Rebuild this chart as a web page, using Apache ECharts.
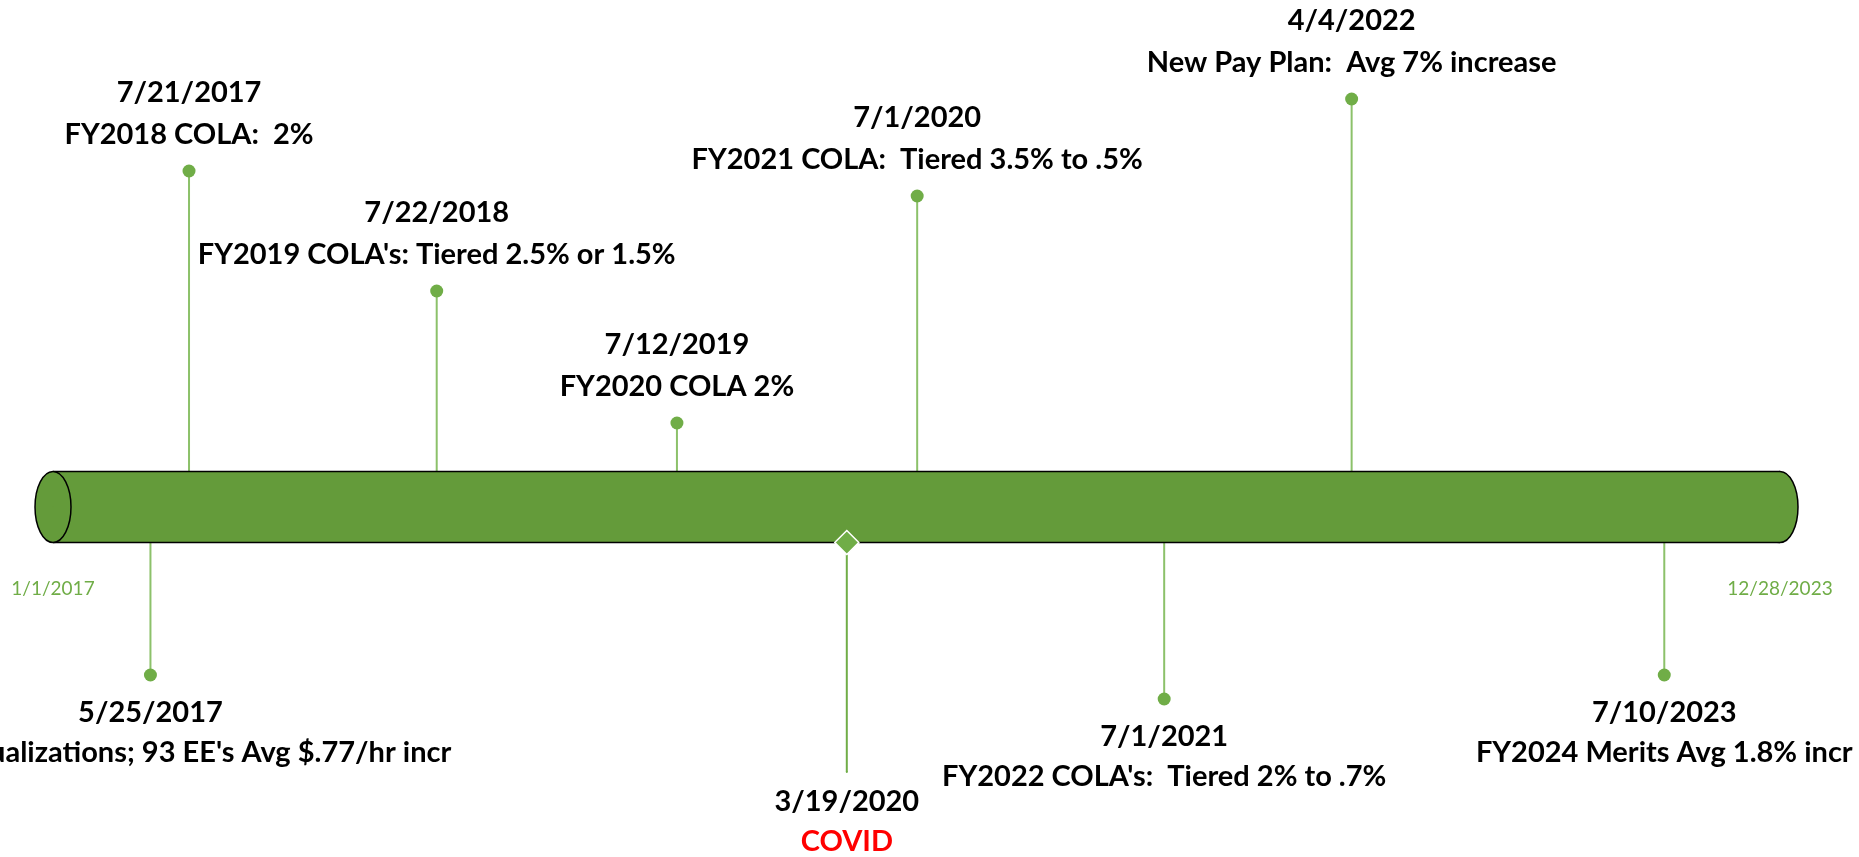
<!DOCTYPE html>
<html>
<head>
<meta charset="utf-8">
<title>Pay timeline</title>
<script src="https://cdn.jsdelivr.net/npm/echarts@6/dist/echarts.min.js"></script>
<style>
  html, body { margin: 0; padding: 0; background: #fff; }
  #chart { width: 1859px; height: 857px; }
</style>
</head>
<body>
<div id="chart"></div>
<script>
// timeline span (the tube) and its end labels
const axisStart = '2017-01-01';
const axisEnd = '2023-12-28';
const axisEndLabels = ['1/1/2017', '12/28/2023'];

// events along the timeline
const eventDates = ['2017-05-25', '2017-07-21', '2018-07-22', '2019-07-12', '2020-03-19', '2020-07-01', '2021-07-01', '2022-04-04', '2023-07-10'];
const eventHeights = [-16.8, 33.6, 21.6, 8.4, -26.5, 31.1, -19.2, 40.8, -16.8];
const eventKinds = ['dot', 'dot', 'dot', 'dot', 'milestone', 'dot', 'dot', 'dot', 'dot'];
const eventTitles = ['5/25/2017', '7/21/2017', '7/22/2018', '7/12/2019', '3/19/2020', '7/1/2020', '7/1/2021', '4/4/2022', '7/10/2023'];
const eventNotes = [
  "Internal Equalizations; 93 EE's Avg $.77/hr incr",
  'FY2018 COLA:  2%',
  "FY2019 COLA's: Tiered 2.5% or 1.5%",
  'FY2020 COLA 2%',
  'COVID',
  'FY2021 COLA:  Tiered 3.5% to .5%',
  "FY2022 COLA's:  Tiered 2% to .7%",
  'New Pay Plan:  Avg 7% increase',
  'FY2024 Merits Avg 1.8% incr'
];

const TUBE_HALF = 3.55;   // half thickness of the tube, in y units
const FONT = 'Lato, "Open Sans", sans-serif';
const TUBE_GREEN = '#649B3A';
const DOT_GREEN = '#70AD47';
const STEM_GREEN = '#8CC16A';

function day(s) {
  const [y, m, d] = s.split('-').map(Number);
  return new Date(y, m - 1, d).getTime();
}

const chart = echarts.init(document.getElementById('chart'));

const events = eventDates.map((d, i) => ({
  time: day(d), h: eventHeights[i], kind: eventKinds[i], title: eventTitles[i], note: eventNotes[i]
}));

function labelFor(e) {
  const up = e.h > 0;
  const isMilestone = e.kind === 'milestone';
  const lh = up ? 42 : 40;
  return {
    show: true,
    position: up ? 'top' : 'bottom',
    distance: up ? 8.5 : (isMilestone ? 9 : 11.5),
    align: 'center',
    formatter: '{t|' + e.title + '}\n{' + (isMilestone ? 'r' : 'n') + '|' + e.note + '}',
    rich: {
      t: { fontFamily: FONT, fontWeight: 'bold', fontSize: 29, color: '#000', lineHeight: lh, align: 'center' },
      n: { fontFamily: FONT, fontWeight: 'bold', fontSize: 29, color: '#000', lineHeight: lh, align: 'center' },
      r: { fontFamily: FONT, fontWeight: 'bold', fontSize: 29, color: '#FF0000', lineHeight: lh, align: 'center' }
    }
  };
}

const dotData = events.filter(e => e.kind === 'dot').map(e => ({
  value: [e.time, e.h],
  label: labelFor(e)
}));

const milestoneEnds = events.filter(e => e.kind === 'milestone').map(e => ({
  value: [e.time, e.h],
  label: labelFor(e)
}));

const milestoneMarks = events.filter(e => e.kind === 'milestone').map(e => [e.time, -TUBE_HALF]);

const option = {
  backgroundColor: '#fff',
  animation: false,
  grid: { left: 53, right: 79, top: 7, bottom: 0, containLabel: false },
  xAxis: {
    type: 'time',
    min: day(axisStart),
    max: day(axisEnd),
    axisLine: { show: false },
    axisTick: { show: false },
    splitLine: { show: false },
    axisLabel: { show: false }
  },
  yAxis: {
    type: 'value',
    min: -35,
    max: 50,
    show: false
  },
  series: [
    {
      // stems from the tube edge out to each event
      type: 'custom',
      name: 'stems',
      z: 1,
      data: events.map(e => [e.time, e.h, e.kind === 'milestone' ? 1 : 0]),
      encode: { x: 0, y: 1 },
      renderItem: (params, api) => {
        const p = api.coord([api.value(0), api.value(1)]);
        const base = api.coord([api.value(0), 0]);
        const ry = api.size([0, TUBE_HALF])[1];
        const milestone = api.value(2) === 1;
        let y0 = api.value(1) > 0 ? base[1] - ry : base[1] + ry;
        if (milestone) y0 += 12;
        return {
          type: 'line',
          shape: { x1: p[0], y1: y0, x2: p[0], y2: p[1] },
          style: { stroke: milestone ? DOT_GREEN : STEM_GREEN, lineWidth: 2 }
        };
      }
    },
    {
      // the tube drawn between the first and last day of the axis
      type: 'custom',
      name: 'tube',
      z: 2,
      clip: false,
      data: [[day(axisStart), day(axisEnd)]],
      encode: { x: [0, 1] },
      renderItem: (params, api) => {
        const a = api.coord([api.value(0), 0]);
        const b = api.coord([api.value(1), 0]);
        const ry = api.size([0, TUBE_HALF])[1];
        const rx = 18;
        const edge = { stroke: '#000', lineWidth: 1.5 };
        return {
          type: 'group',
          children: [
            { type: 'ellipse', shape: { cx: b[0], cy: b[1], rx: rx, ry: ry }, style: Object.assign({ fill: TUBE_GREEN }, edge) },
            { type: 'rect', shape: { x: a[0], y: a[1] - ry, width: b[0] - a[0], height: ry * 2 }, style: { fill: TUBE_GREEN } },
            { type: 'line', shape: { x1: a[0], y1: a[1] - ry, x2: b[0], y2: b[1] - ry }, style: edge },
            { type: 'line', shape: { x1: a[0], y1: a[1] + ry, x2: b[0], y2: b[1] + ry }, style: edge },
            { type: 'ellipse', shape: { cx: a[0], cy: a[1], rx: rx, ry: ry }, style: Object.assign({ fill: TUBE_GREEN }, edge) }
          ]
        };
      }
    },
    {
      // date labels under both ends of the tube
      type: 'scatter',
      name: 'axis ends',
      z: 3,
      symbolSize: 1,
      itemStyle: { color: TUBE_GREEN, opacity: 1 },
      data: [day(axisStart), day(axisEnd)].map((t, i) => ({ value: [t, 0], name: axisEndLabels[i] })),
      label: {
        show: true,
        position: 'bottom',
        distance: 70,
        formatter: '{b}',
        color: DOT_GREEN,
        fontFamily: FONT,
        fontSize: 19,
        lineHeight: 23
      }
    },
    {
      type: 'scatter',
      name: 'events',
      z: 3,
      symbol: 'circle',
      symbolSize: 13,
      itemStyle: { color: DOT_GREEN, opacity: 1 },
      data: dotData
    },
    {
      // milestone text hangs from the end of its stem
      type: 'scatter',
      name: 'milestone label',
      z: 3,
      symbolSize: 2,
      itemStyle: { color: DOT_GREEN, opacity: 1 },
      data: milestoneEnds
    },
    {
      type: 'scatter',
      name: 'milestone',
      z: 4,
      symbol: 'diamond',
      symbolSize: 24,
      itemStyle: { color: DOT_GREEN, borderColor: '#fff', borderWidth: 1.5, opacity: 1 },
      data: milestoneMarks
    }
  ]
};

chart.setOption(option);
</script>
</body>
</html>
